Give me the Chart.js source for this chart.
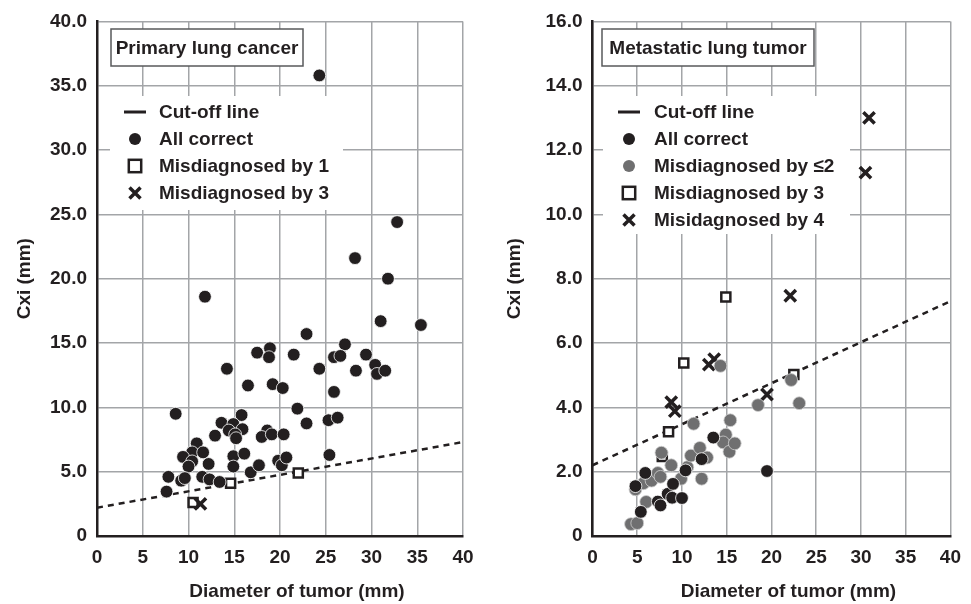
<!DOCTYPE html>
<html>
<head>
<meta charset="utf-8">
<script src="https://cdn.jsdelivr.net/npm/chart.js@4.4.1/dist/chart.umd.min.js"></script>
<style>
  html, body { margin: 0; padding: 0; background: #fff; }
  .panel { position: absolute; top: 0; }
  #left { left: 0; }
  #right { left: 490px; }
</style>
</head>
<body>
<div class="panel" id="left"><canvas id="chartLeft" width="490" height="604"></canvas></div>
<div class="panel" id="right"><canvas id="chartRight" width="481" height="604"></canvas></div>
<script>
// Tick labels
const xTickLabels = ['0', '5', '10', '15', '20', '25', '30', '35', '40'];
const primaryYLabels = ['0', '5.0', '10.0', '15.0', '20.0', '25.0', '30.0', '35.0', '40.0'];
const metaYLabels = ['0', '2.0', '4.0', '6.0', '8.0', '10.0', '12.0', '14.0', '16.0'];

// Cut-off line (same in both panels)
const cutoffX = [0, 40];
const cutoffY = [2.2, 7.3];

// Primary lung cancer
const primaryCorrectX = [24.3, 32.8, 28.2, 31.8, 11.8, 31.0, 35.4, 22.9, 27.1, 18.9, 17.5, 18.8, 21.5, 25.9, 26.6, 29.4,
  14.2, 24.3, 28.3, 30.4, 30.6, 31.5, 16.5, 19.2, 20.3, 25.9, 8.6, 21.9, 15.8, 13.6, 22.9, 25.3, 26.3, 14.9, 14.4, 15.9,
  15.1, 15.2, 12.9, 18.6, 18.0, 19.1, 20.4, 10.9, 10.4, 11.6, 9.4, 10.4, 10.0, 12.2, 14.9, 16.1, 14.9, 16.8, 17.7, 19.8,
  20.2, 20.7, 25.4, 7.8, 9.2, 9.6, 11.5, 12.3, 13.4, 7.6];
const primaryCorrectY = [35.8, 24.4, 21.6, 20.0, 18.6, 16.7, 16.4, 15.7, 14.9, 14.6, 14.25, 13.9, 14.1, 13.9, 14.0, 14.1,
  13.0, 13.0, 12.85, 13.3, 12.6, 12.85, 11.7, 11.8, 11.5, 11.2, 9.5, 9.9, 9.4, 8.8, 8.75, 9.0, 9.2, 8.7, 8.2, 8.3,
  7.9, 7.6, 7.8, 8.2, 7.7, 7.9, 7.9, 7.2, 6.5, 6.5, 6.15, 5.8, 5.4, 5.6, 6.2, 6.4, 5.4, 4.95, 5.5, 5.85,
  5.5, 6.1, 6.3, 4.6, 4.3, 4.5, 4.6, 4.4, 4.2, 3.45];
const primaryMiss1X = [10.5, 14.6, 22.0];
const primaryMiss1Y = [2.6, 4.1, 4.9];
const primaryMiss3X = [11.3];
const primaryMiss3Y = [2.5];

// Metastatic lung tumor
const metaCorrectX = [4.8, 5.4, 5.9, 7.3, 7.6, 8.4, 9.0, 8.9, 10.0, 10.4, 12.2, 13.5, 19.5];
const metaCorrectY = [1.55, 0.75, 1.96, 1.07, 0.95, 1.31, 1.62, 1.19, 1.18, 2.04, 2.39, 3.06, 2.02];
const metaMiss2X = [4.3, 5.0, 6.0, 4.8, 5.7, 6.6, 7.3, 7.6, 7.7, 8.8, 9.9, 10.6, 11.0, 11.3, 12.0, 12.2, 12.8,
  14.3, 14.9, 14.6, 15.3, 15.9, 15.4, 18.5, 22.2, 23.1];
const metaMiss2Y = [0.37, 0.40, 1.06, 1.45, 1.64, 1.72, 1.96, 1.84, 2.59, 2.2, 1.78, 2.14, 2.5, 3.49, 2.74, 1.78, 2.44,
  5.29, 3.15, 2.91, 2.62, 2.88, 3.6, 4.07, 4.85, 4.13];
const metaMiss3X = [14.9, 10.2, 8.5, 22.5, 7.8];
const metaMiss3Y = [7.43, 5.38, 3.24, 5.02, 2.47];
const metaMiss4X = [30.9, 30.5, 22.1, 13.6, 13.0, 8.8, 9.2, 19.5];
const metaMiss4Y = [13.0, 11.3, 7.47, 5.5, 5.33, 4.16, 3.88, 4.4];

const ink = '#231f20';
const gridColor = '#a3a5a8';
const fontFamily = '"Liberation Sans", Arial, sans-serif';
const font = { family: fontFamily, size: 19, weight: 'bold' };

function pts(xs, ys) {
    return xs.map((x, i) => ({ x: x, y: ys[i] }));
}

function cutoffSet() {
    return {
        data: pts(cutoffX, cutoffY), showLine: true, borderColor: ink, borderWidth: 2.5,
        borderDash: [6, 5], pointRadius: 0, order: 5
    };
}
function blackDots(xs, ys) {
    return {
        data: pts(xs, ys), pointStyle: 'circle', pointRadius: 6.4, backgroundColor: ink,
        borderColor: '#ffffff', borderWidth: 0.8, order: 1
    };
}
function grayDots(xs, ys) {
    return {
        data: pts(xs, ys), pointStyle: 'circle', pointRadius: 6.4, backgroundColor: '#6f6f70',
        borderColor: '#cfcfcf', borderWidth: 0.8, order: 2
    };
}
function squares(xs, ys) {
    return {
        data: pts(xs, ys), pointStyle: 'rect', pointRadius: 6.4, backgroundColor: '#ffffff',
        borderColor: ink, borderWidth: 2.5, order: 4
    };
}
function crosses(xs, ys) {
    return {
        data: pts(xs, ys), pointStyle: 'crossRot', pointRadius: 8, backgroundColor: ink,
        borderColor: ink, borderWidth: 3.5, order: 3
    };
}

// Title box, legend box and x title drawn on top of the grid
const panelDecor = {
    id: 'panelDecor',
    beforeDatasetsDraw(chart) {
        const p = chart.options.plugins.panelDecor;
        const ctx = chart.ctx;
        ctx.save();
        // legend background
        ctx.fillStyle = '#ffffff';
        ctx.fillRect(p.legendBox[0], p.legendBox[1], p.legendBox[2], p.legendBox[3]);
        // title box
        const b = p.titleBox;
        ctx.fillRect(b[0], b[1], b[2], b[3]);
        ctx.strokeStyle = '#58595b';
        ctx.lineWidth = 1.5;
        ctx.strokeRect(b[0], b[1], b[2], b[3]);
        ctx.fillStyle = ink;
        ctx.font = 'bold 19px ' + fontFamily;
        ctx.textAlign = 'center';
        ctx.textBaseline = 'middle';
        ctx.fillText(p.title, b[0] + b[2] / 2, b[1] + b[3] / 2 + 1);

        // legend entries
        ctx.textAlign = 'left';
        p.items.forEach((item, i) => {
            const y = p.legendTop + i * 27;
            const sx = p.symbolX;
            ctx.fillStyle = ink;
            ctx.strokeStyle = ink;
            if (item.kind === 'line') {
                ctx.lineWidth = 3;
                ctx.beginPath();
                ctx.moveTo(sx - 11, y);
                ctx.lineTo(sx + 11, y);
                ctx.stroke();
            } else if (item.kind === 'dot' || item.kind === 'gray') {
                ctx.fillStyle = item.kind === 'dot' ? ink : '#6f6f70';
                ctx.beginPath();
                ctx.arc(sx, y, 6, 0, Math.PI * 2);
                ctx.fill();
            } else if (item.kind === 'square') {
                ctx.lineWidth = 2.5;
                ctx.strokeRect(sx - 6.2, y - 6.2, 12.4, 12.4);
            } else if (item.kind === 'cross') {
                ctx.lineWidth = 3.5;
                ctx.beginPath();
                ctx.moveTo(sx - 5.5, y - 5.5);
                ctx.lineTo(sx + 5.5, y + 5.5);
                ctx.moveTo(sx + 5.5, y - 5.5);
                ctx.lineTo(sx - 5.5, y + 5.5);
                ctx.stroke();
            }
            ctx.fillStyle = ink;
            ctx.fillText(item.label, p.textX, y + 1);
        });
        ctx.restore();
    },
    afterDraw(chart) {
        const ctx = chart.ctx;
        const area = chart.chartArea;
        ctx.save();
        ctx.fillStyle = ink;
        ctx.font = 'bold 19px ' + fontFamily;
        ctx.textAlign = 'center';
        ctx.textBaseline = 'middle';
        ctx.fillText('Diameter of tumor (mm)', (area.left + area.right) / 2 + 17, 592);
        ctx.restore();
    }
};

function makeChart(id, cfg) {
    return new Chart(document.getElementById(id), {
        type: 'scatter',
        data: { datasets: cfg.datasets },
        plugins: [panelDecor],
        options: {
            responsive: false,
            animation: false,
            events: [],
            layout: { autoPadding: false, padding: { top: 16, right: cfg.rightPad, left: 0, bottom: 0 } },
            plugins: {
                legend: { display: false },
                tooltip: { enabled: false },
                panelDecor: cfg.decor
            },
            scales: {
                x: {
                    type: 'linear', min: 0, max: 40,
                    afterFit: s => { s.height = 68; },
                    ticks: { stepSize: 5, padding: 10, color: ink, font: font, callback: (v, i) => xTickLabels[i] },
                    grid: { color: gridColor, lineWidth: 1.5, drawTicks: false },
                    border: { color: ink, width: 2.5 }
                },
                y: {
                    min: 0, max: cfg.yMax,
                    afterFit: s => { s.width = cfg.yWidth; },
                    ticks: { stepSize: cfg.yStep, padding: 10, color: ink, font: font, callback: (v, i) => cfg.yLabels[i] },
                    grid: { color: gridColor, lineWidth: 1.5, drawTicks: false },
                    border: { color: ink, width: 2.5 },
                    title: { display: true, text: 'Cxi (mm)', color: ink, font: font, padding: { top: 13, bottom: 0 } }
                }
            }
        }
    });
}

makeChart('chartLeft', {
    yMax: 40, yStep: 5, yLabels: primaryYLabels, yWidth: 97, rightPad: 27,
    datasets: [
        cutoffSet(),
        blackDots(primaryCorrectX, primaryCorrectY),
        squares(primaryMiss1X, primaryMiss1Y),
        crosses(primaryMiss3X, primaryMiss3Y)
    ],
    decor: {
        title: 'Primary lung cancer',
        titleBox: [111, 29, 192, 37],
        legendBox: [110, 96, 233, 114],
        legendTop: 112, symbolX: 135, textX: 159,
        items: [
            { kind: 'line', label: 'Cut-off line' },
            { kind: 'dot', label: 'All correct' },
            { kind: 'square', label: 'Misdiagnosed by 1' },
            { kind: 'cross', label: 'Misdiagnosed by 3' }
        ]
    }
});

makeChart('chartRight', {
    yMax: 16, yStep: 2, yLabels: metaYLabels, yWidth: 102.5, rightPad: 13,
    datasets: [
        cutoffSet(),
        blackDots(metaCorrectX, metaCorrectY),
        grayDots(metaMiss2X, metaMiss2Y),
        squares(metaMiss3X, metaMiss3Y),
        crosses(metaMiss4X, metaMiss4Y)
    ],
    decor: {
        title: 'Metastatic lung tumor',
        titleBox: [112, 29, 212, 37],
        legendBox: [113, 96, 247, 138],
        legendTop: 112, symbolX: 139, textX: 164,
        items: [
            { kind: 'line', label: 'Cut-off line' },
            { kind: 'dot', label: 'All correct' },
            { kind: 'gray', label: 'Misdiagnosed by ≤2' },
            { kind: 'square', label: 'Misdiagnosed by 3' },
            { kind: 'cross', label: 'Misidagnosed by 4' }
        ]
    }
});
</script>
</body>
</html>
